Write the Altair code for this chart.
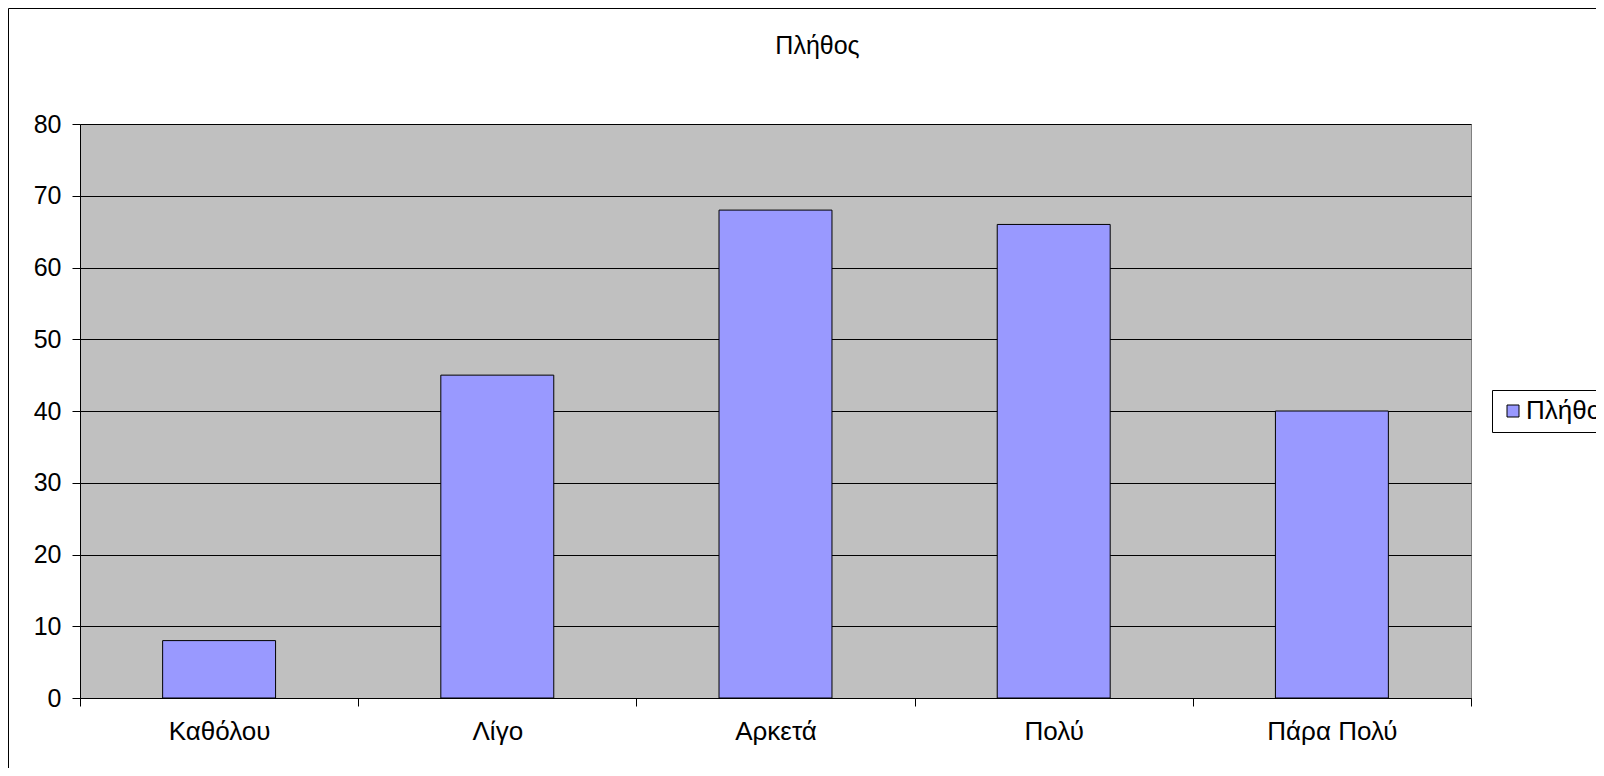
import altair as alt
import pandas as pd

categories = ["Καθόλου", "Λίγο", "Αρκετά", "Πολύ", "Πάρα Πολύ"]
values = [8, 45, 68, 66, 40]
series_name = "Πλήθος"
y_ticks = [0, 10, 20, 30, 40, 50, 60, 70, 80]

df = pd.DataFrame({"cat": categories, "val": values, "series": [series_name] * len(categories)})

W, H = 1391, 574
PAD_L, PAD_T = 72, 116
TOTAL_W, TOTAL_H = 1588, 760
FONT = "Liberation Sans"
FS = 25
FSX = 26

bars = alt.Chart(df).mark_bar(
    width=alt.RelativeBandSize(0.406), stroke="black", strokeWidth=1, opacity=1
).encode(
    x=alt.X("cat:N", sort=categories,
            scale=alt.Scale(paddingInner=0, paddingOuter=0),
            axis=alt.Axis(title=None, labelAngle=0, tickBand="extent", tickSize=8,
                          labelPadding=12, domainColor="black", tickColor="black",
                          labelFontSize=FSX, labelFont=FONT, labelColor="black", grid=False)),
    y=alt.Y("val:Q", scale=alt.Scale(domain=[0, 80], nice=False),
            axis=alt.Axis(title=None, values=y_ticks, tickSize=8, labelPadding=11,
                          domainColor="black", tickColor="black", labelFontSize=FS,
                          labelFont=FONT, labelColor="black", grid=True, gridColor="black",
                          gridOpacity=1, gridWidth=1)),
    color=alt.Color("series:N", scale=alt.Scale(range=["#9999FF"]),
                    legend=alt.Legend(title=None, orient="none", legendX=1412, legendY=266,
                                      padding=8, strokeColor="black", fillColor="white",
                                      symbolType="square", symbolSize=144,
                                      symbolStrokeColor="black", symbolStrokeWidth=1,
                                      symbolFillColor="#9999FF",
                                      labelFontSize=FSX, labelFont=FONT, labelColor="black",
                                      labelOffset=0, cornerRadius=0)),
)

frame_df = pd.DataFrame({"k": [0]})
frame = alt.Chart(frame_df).mark_rect(fill="white", fillOpacity=0, stroke="black", strokeWidth=1).encode(
    x=alt.value(-PAD_L + 0.5), x2=alt.value(W + 400),
    y=alt.value(-PAD_T + 0.5), y2=alt.value(H + 400),
)

chart = alt.layer(frame, bars).properties(
    width=W, height=H,
    autosize=alt.AutoSizeParams(type="none"),
    padding={"left": PAD_L, "top": PAD_T, "right": TOTAL_W - PAD_L - W, "bottom": TOTAL_H - PAD_T - H},
    title=alt.TitleParams(series_name, fontSize=FS, font=FONT, fontWeight="normal",
                          color="black", anchor="middle", dx=42, offset=0, dy=71,
                          baseline="alphabetic"),
).configure_view(fill="#C0C0C0", stroke="#808080", strokeWidth=1)

chart.save("out.html", embed_options={"renderer": "svg", "actions": False})
